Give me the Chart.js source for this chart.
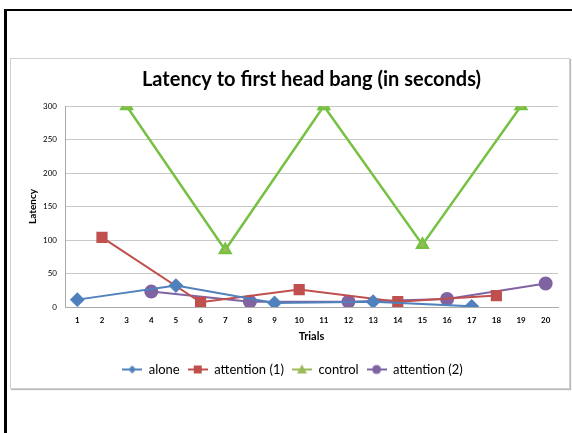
<!DOCTYPE html>
<html>
<head>
<meta charset="utf-8">
<script src="https://cdn.jsdelivr.net/npm/chart.js@4.4.0/dist/chart.umd.min.js"></script>
<style>
    body { margin: 0; background: #fff; }
    #frame { position: absolute; left: 4px; top: 9px; width: 580px; height: 440px; border-top: 2px solid #000; border-left: 3px solid #000; }
    #box { position: absolute; left: 10px; top: 58px; width: 558px; height: 329px; border: 1px solid #cfcfcf; box-shadow: 1px 1px 1px #bbb; background: #fff; }
    #latencyChart { position: absolute; left: 0; top: 0; }
</style>
</head>
<body>
<div id="frame"></div>
<div id="box"><canvas id="latencyChart" width="558" height="329"></canvas></div>
<script>
const trials = ['1','2','3','4','5','6','7','8','9','10','11','12','13','14','15','16','17','18','19','20'];
const alone =      [11, null, null, null, 32, null, null, null, 6, null, null, null, 8, null, null, null, 1, null, null, null];
const attention1 = [null, 104, null, null, null, 7, null, null, null, 26, null, null, null, 8, null, null, null, 17, null, null];
const control =    [null, null, 300, null, null, null, 85, null, null, null, 300, null, null, null, 93, null, null, null, 300, null];
const attention2 = [null, null, null, 23, null, null, null, 8, null, null, null, 8, null, null, null, 12, null, null, null, 35];

const FONT = "Lato, 'Open Sans', sans-serif";

// legend symbol: short line with marker in the middle
function legendIcon(color, style) {
    const c = document.createElement('canvas');
    c.width = 20; c.height = 12;
    const g = c.getContext('2d');
    g.strokeStyle = color; g.lineWidth = 2;
    g.beginPath(); g.moveTo(0, 6); g.lineTo(20, 6); g.stroke();
    g.fillStyle = color;
    g.beginPath();
    if (style === 'rectRot') { g.moveTo(10, 2); g.lineTo(14, 6); g.lineTo(10, 10); g.lineTo(6, 6); }
    else if (style === 'rect') { g.rect(6, 2, 8, 8); }
    else if (style === 'triangle') { g.moveTo(10, 1); g.lineTo(15, 10); g.lineTo(5, 10); }
    else { g.arc(10, 6, 4.5, 0, Math.PI * 2); }
    g.fill();
    return c;
}

const ctx = document.getElementById('latencyChart').getContext('2d');
new Chart(ctx, {
    type: 'line',
    data: {
        labels: trials,
        datasets: [
            { label: 'alone', data: alone, borderColor: '#4f81bd', backgroundColor: '#4f81bd', pointStyle: 'rectRot', pointRadius: 6, borderWidth: 2 },
            { label: 'attention (1)', data: attention1, borderColor: '#c0504d', backgroundColor: '#c0504d', pointStyle: 'rect', pointRadius: 6.5, borderWidth: 2 },
            { label: 'control', data: control, borderColor: '#76c043', backgroundColor: '#9bbb59', pointStyle: 'triangle', pointRadius: 6, borderWidth: 2.5,
              segment: { borderColor: c => c.p0DataIndex === 2 ? '#a8c77c' : '#76c043' } },
            { label: 'attention (2)', data: attention2, borderColor: '#8064a2', backgroundColor: '#8064a2', pointStyle: 'circle', pointRadius: 6, borderWidth: 2 }
        ]
    },
    options: {
        responsive: false,
        animation: false,
        spanGaps: true,
        layout: { padding: { left: 16, right: 11, top: 0, bottom: 2 } },
        plugins: {
            title: {
                display: true,
                text: 'Latency to first head bang (in seconds)',
                fullSize: false,
                color: '#000',
                font: { family: FONT, size: 20, weight: 'bold' },
                padding: { top: 9, bottom: 14 }
            },
            legend: {
                position: 'bottom',
                labels: {
                    usePointStyle: true,
                    pointStyleWidth: 20,
                    boxHeight: 12,
                    color: '#000',
                    font: { family: FONT, size: 13 },
                    padding: 8,
                    generateLabels: chart => chart.data.datasets.map((ds, i) => ({
                        text: ds.label,
                        pointStyle: legendIcon(ds.backgroundColor, ds.pointStyle),
                        fillStyle: ds.backgroundColor,
                        strokeStyle: ds.backgroundColor,
                        lineWidth: 0,
                        hidden: false,
                        datasetIndex: i
                    }))
                }
            },
            tooltip: { enabled: false }
        },
        scales: {
            x: {
                offset: true,
                afterFit: s => { s.height = 48; },
                grid: { display: false, drawTicks: false },
                border: { color: '#aaa' },
                ticks: { color: '#000', font: { family: FONT, size: 8, weight: 'bold' }, padding: 9, maxRotation: 0, autoSkip: false },
                title: { display: true, text: 'Trials', color: '#000', font: { family: FONT, size: 11, weight: 'bold' }, padding: { top: 0, bottom: 12 } }
            },
            y: {
                min: 0, max: 300,
                afterFit: s => { s.width = 38; },
                ticks: { stepSize: 50, color: '#000', font: { family: FONT, size: 8 }, padding: 8 },
                grid: { color: '#c8c8c8', drawTicks: false },
                border: { color: '#aaa' },
                title: { display: true, text: 'Latency', color: '#000', font: { family: FONT, size: 10, weight: 'bold' }, padding: 0 }
            }
        }
    }
});
</script>
</body>
</html>
